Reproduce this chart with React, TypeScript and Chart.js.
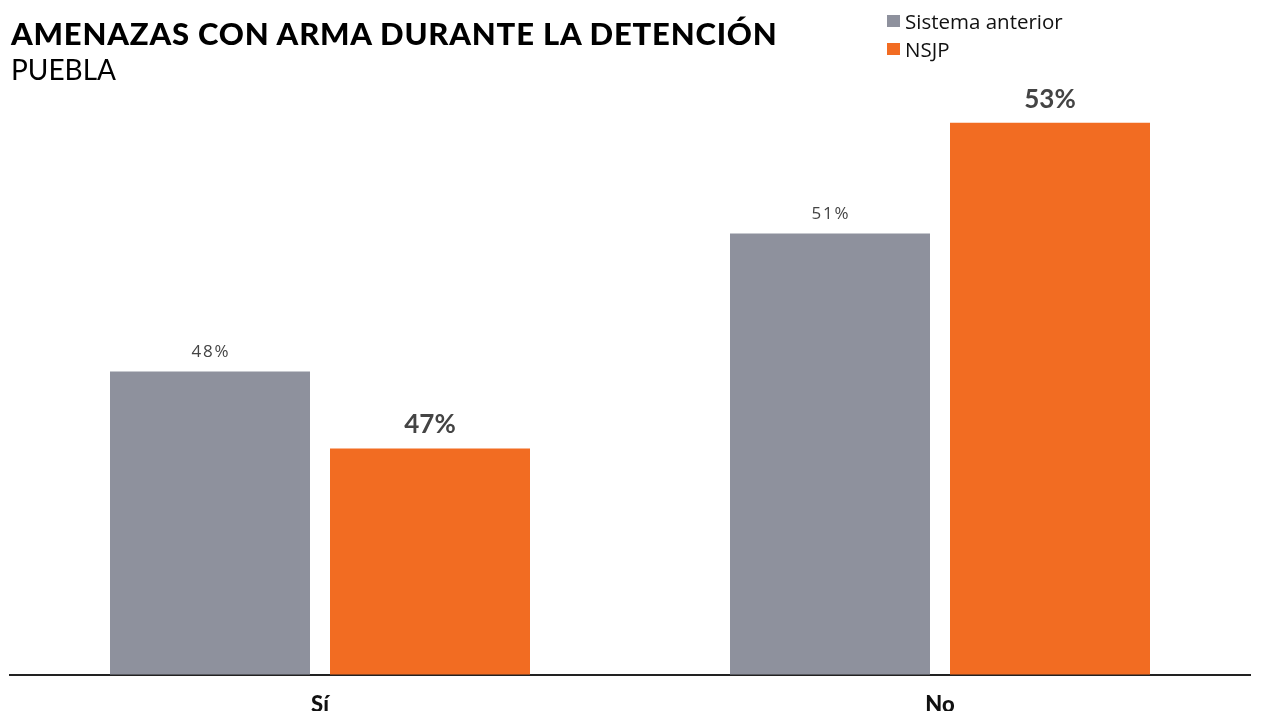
import React, { useEffect, useRef } from "react";
import { Chart, registerables } from "chart.js";

Chart.register(...registerables);

const categories = ["Sí", "No"];
const seriesNames = ["Sistema anterior", "NSJP"];
const sistemaAnterior = [48.36, 50.8];
const nsjp = [47.0, 52.76];
const seriesColors = ["#8E919D", "#F26C22"];
const yMin = 43;
const yMax = 54;
const titleText = "AMENAZAS CON ARMA DURANTE LA DETENCIÓN";
const subtitleText = "PUEBLA";

export default function App() {
  const ref = useRef<HTMLCanvasElement>(null);

  useEffect(() => {
    document.body.style.margin = "0";
    const labelPlugin = {
      id: "valueLabels",
      afterDatasetsDraw(chart: any) {
        const ctx = chart.ctx;
        chart.data.datasets.forEach((ds: any, di: number) => {
          const meta = chart.getDatasetMeta(di);
          meta.data.forEach((bar: any, i: number) => {
            const v = ds.data[i] as number;
            ctx.save();
            ctx.fillStyle = "#444444";
            ctx.textAlign = "center";
            ctx.textBaseline = "alphabetic";
            if (di === 0) {
              ctx.font = "400 17px 'Open Sans'";
              (ctx as any).letterSpacing = "1.8px";
              ctx.fillText(Math.round(v) + "%", bar.x + 0.9, bar.y - 14);
            } else {
              ctx.font = "700 26px Lato";
              ctx.fillText(Math.round(v) + "%", bar.x, bar.y - 15);
            }
            ctx.restore();
          });
        });
      },
    };

    const chart = new Chart(ref.current as HTMLCanvasElement, {
      type: "bar",
      data: {
        labels: categories,
        datasets: [
          {
            label: seriesNames[0],
            data: sistemaAnterior,
            backgroundColor: seriesColors[0],
            categoryPercentage: 0.70968,
            barPercentage: 0.90909,
          },
          {
            label: seriesNames[1],
            data: nsjp,
            backgroundColor: seriesColors[1],
            categoryPercentage: 0.70968,
            barPercentage: 0.90909,
          },
        ],
      },
      options: {
        responsive: false,
        animation: false,
        layout: { padding: { left: 10, right: 14, top: 52.5, bottom: -24 } },
        plugins: {
          legend: { display: false },
          title: { display: false },
          tooltip: { enabled: false },
        },
        scales: {
          x: {
            grid: { display: false, drawTicks: false },
            border: { display: true, color: "#222222", width: 2 },
            ticks: {
              padding: 17,
              color: "#111111",
              font: { family: "Lato", size: 22, weight: "900" },
            },
          },
          y: {
            display: false,
            min: yMin,
            max: yMax,
          },
        },
      },
      plugins: [labelPlugin],
    });
    return () => chart.destroy();
  }, []);

  return (
    <div style={{ position: "absolute", left: 0, top: 0, width: 1264, height: 711, background: "#fff" }}>
      <canvas ref={ref} width={1264} height={711} style={{ position: "absolute", left: 0, top: 0, width: 1264, height: 711 }} />
      <div style={{ position: "absolute", left: 11, top: 15, fontFamily: "Lato", fontWeight: 900, fontSize: 31, letterSpacing: "0.8px", lineHeight: "36px", color: "#000", whiteSpace: "nowrap" }}>
        {titleText}
      </div>
      <div style={{ position: "absolute", left: 11, top: 51, fontFamily: "Lato", fontWeight: 400, fontSize: 28, lineHeight: "36px", color: "#000", whiteSpace: "nowrap" }}>
        {subtitleText}
      </div>
      <div style={{ position: "absolute", left: 887, top: 7, fontFamily: "'Open Sans'", fontSize: 20.5, lineHeight: "28px", color: "#111" }}>
        {seriesNames.map((n, i) => (
          <div key={n} style={{ display: "flex", alignItems: "center", height: 28 }}>
            <span style={{ display: "inline-block", width: 13, height: 12, background: seriesColors[i], marginRight: 5 }} />
            <span>{n}</span>
          </div>
        ))}
      </div>
    </div>
  );
}
